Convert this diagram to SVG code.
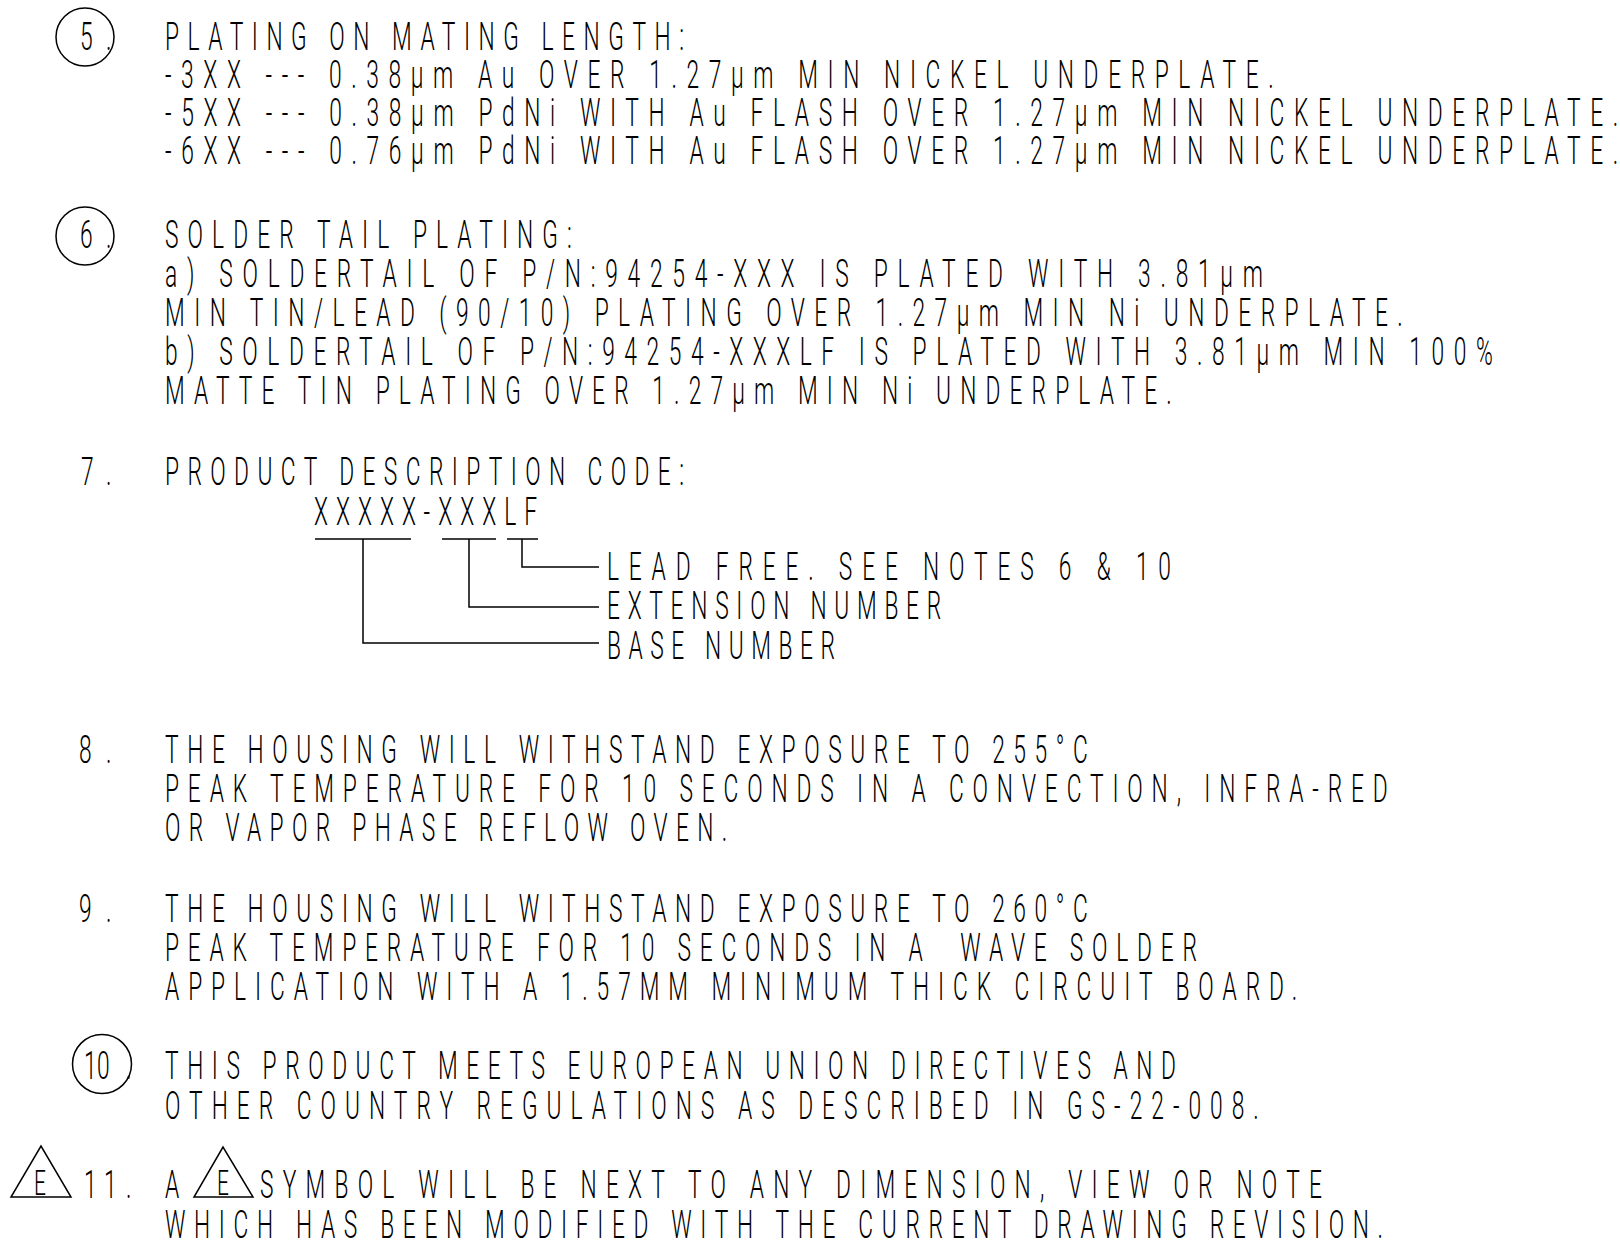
<svg xmlns="http://www.w3.org/2000/svg" width="1620" height="1247" viewBox="0 0 1620 1247">
<style>
text{font-family:Roboto,"Liberation Sans","DejaVu Sans",sans-serif;font-size:38px;font-weight:300;fill:#000;}
.s{fill:none;stroke:#000;stroke-width:1.5;}
.e{font-size:35px;}
</style>
<rect width="1620" height="1247" fill="#fff"/>
<g id="note5">
<circle class="s" cx="85" cy="37" r="29"/>
<text transform="translate(80,50) scale(0.6,1)">5</text>
<text transform="translate(106,50) scale(0.6,1)">.</text>
<text transform="translate(165,50) scale(0.6,1)" textLength="865" lengthAdjust="spacing">PLATING ON MATING LENGTH:</text>
<text transform="translate(165,88) scale(0.6,1)" textLength="1848" lengthAdjust="spacing">-3XX --- 0.38µm Au OVER 1.27µm MIN NICKEL UNDERPLATE.</text>
<text transform="translate(165,126) scale(0.6,1)" textLength="2422" lengthAdjust="spacing">-5XX --- 0.38µm PdNi WITH Au FLASH OVER 1.27µm MIN NICKEL UNDERPLATE.</text>
<text transform="translate(165,164) scale(0.6,1)" textLength="2422" lengthAdjust="spacing">-6XX --- 0.76µm PdNi WITH Au FLASH OVER 1.27µm MIN NICKEL UNDERPLATE.</text>
</g>
<g id="note6">
<circle class="s" cx="85" cy="236" r="29"/>
<text transform="translate(80,248) scale(0.6,1)">6</text>
<text transform="translate(106,248) scale(0.6,1)">.</text>
<text transform="translate(165,248) scale(0.6,1)" textLength="678" lengthAdjust="spacing">SOLDER TAIL PLATING:</text>
<text transform="translate(165,287) scale(0.6,1)" textLength="1830" lengthAdjust="spacing">a) SOLDERTAIL OF P/N:94254-XXX IS PLATED WITH 3.81µm</text>
<text transform="translate(165,326) scale(0.6,1)" textLength="2063" lengthAdjust="spacing">MIN TIN/LEAD (90/10) PLATING OVER 1.27µm MIN Ni UNDERPLATE.</text>
<text transform="translate(165,365) scale(0.6,1)" textLength="2213" lengthAdjust="spacing">b) SOLDERTAIL OF P/N:94254-XXXLF IS PLATED WITH 3.81µm MIN 100%</text>
<text transform="translate(165,404) scale(0.6,1)" textLength="1678" lengthAdjust="spacing">MATTE TIN PLATING OVER 1.27µm MIN Ni UNDERPLATE.</text>
</g>
<g id="note7">
<text transform="translate(81,485) scale(0.6,1)">7</text>
<text transform="translate(106,485) scale(0.6,1)">.</text>
<text transform="translate(165,485) scale(0.6,1)" textLength="865" lengthAdjust="spacing">PRODUCT DESCRIPTION CODE:</text>
<text transform="translate(314,525) scale(0.6,1)" textLength="372" lengthAdjust="spacing">XXXXX-XXXLF</text>
<text transform="translate(607,580) scale(0.6,1)" textLength="940" lengthAdjust="spacing">LEAD FREE. SEE NOTES 6 &amp; 10</text>
<text transform="translate(607,619) scale(0.6,1)" textLength="557" lengthAdjust="spacing">EXTENSION NUMBER</text>
<text transform="translate(607,659) scale(0.6,1)" textLength="380" lengthAdjust="spacing">BASE NUMBER</text>
</g>
<g id="connectors">
<line class="s" x1="315" y1="539" x2="411" y2="539"/>
<line class="s" x1="442" y1="539" x2="496" y2="539"/>
<line class="s" x1="507" y1="539" x2="538" y2="539"/>
<polyline class="s" points="363,539 363,643 599,643"/>
<polyline class="s" points="469,539 469,607 599,607"/>
<polyline class="s" points="522,539 522,567 599,567"/>
</g>
<g id="note8">
<text transform="translate(79,763) scale(0.6,1)">8</text>
<text transform="translate(106,763) scale(0.6,1)">.</text>
<text transform="translate(165,763) scale(0.6,1)" textLength="1538" lengthAdjust="spacing">THE HOUSING WILL WITHSTAND EXPOSURE TO 255°C</text>
<text transform="translate(165,802) scale(0.6,1)" textLength="2038" lengthAdjust="spacing">PEAK TEMPERATURE FOR 10 SECONDS IN A CONVECTION, INFRA-RED</text>
<text transform="translate(165,841) scale(0.6,1)" textLength="937" lengthAdjust="spacing">OR VAPOR PHASE REFLOW OVEN.</text>
</g>
<g id="note9">
<text transform="translate(79,922) scale(0.6,1)">9</text>
<text transform="translate(106,922) scale(0.6,1)">.</text>
<text transform="translate(165,922) scale(0.6,1)" textLength="1538" lengthAdjust="spacing">THE HOUSING WILL WITHSTAND EXPOSURE TO 260°C</text>
<text transform="translate(165,961) scale(0.6,1)" textLength="1720" lengthAdjust="spacing" xml:space="preserve">PEAK TEMPERATURE FOR 10 SECONDS IN A  WAVE SOLDER</text>
<text transform="translate(165,1000) scale(0.6,1)" textLength="1887" lengthAdjust="spacing">APPLICATION WITH A 1.57MM MINIMUM THICK CIRCUIT BOARD.</text>
</g>
<g id="note10">
<circle class="s" cx="102" cy="1064" r="29.5"/>
<text transform="translate(84,1079) scale(0.6,1)">1</text>
<text transform="translate(97,1079) scale(0.6,1)">0</text>
<text transform="translate(126,1079) scale(0.6,1)">.</text>
<text transform="translate(165,1079) scale(0.6,1)" textLength="1685" lengthAdjust="spacing">THIS PRODUCT MEETS EUROPEAN UNION DIRECTIVES AND</text>
<text transform="translate(165,1119) scale(0.6,1)" textLength="1823" lengthAdjust="spacing">OTHER COUNTRY REGULATIONS AS DESCRIBED IN GS-22-008.</text>
</g>
<g id="note11">
<polygon class="s" points="11,1197 71,1197 41,1146"/>
<text class="e" transform="translate(34,1195) scale(0.6,1)">E</text>
<text transform="translate(84,1198) scale(0.6,1)">1</text>
<text transform="translate(104,1198) scale(0.6,1)">1</text>
<text transform="translate(126,1198) scale(0.6,1)">.</text>
<text transform="translate(165,1198) scale(0.6,1)">A</text>
<polygon class="s" points="194,1197 253,1197 223,1147"/>
<text class="e" transform="translate(217,1195) scale(0.6,1)">E</text>
<text transform="translate(260,1198) scale(0.6,1)" textLength="1770" lengthAdjust="spacing">SYMBOL WILL BE NEXT TO ANY DIMENSION, VIEW OR NOTE</text>
<text transform="translate(165,1238) scale(0.6,1)" textLength="2030" lengthAdjust="spacing">WHICH HAS BEEN MODIFIED WITH THE CURRENT DRAWING REVISION.</text>
</g>
</svg>
